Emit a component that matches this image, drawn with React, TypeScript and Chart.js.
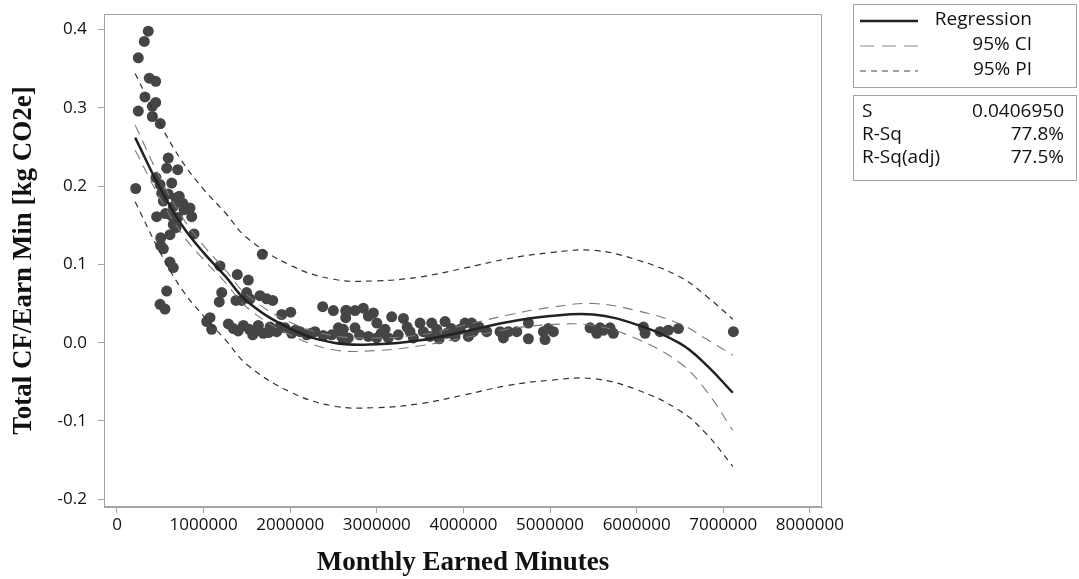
import React, { useEffect, useRef } from "react";
import { Chart, registerables } from "chart.js";

Chart.register(...registerables);

// Observed points: Monthly earned minutes vs Total CF / Earn Min
const pointMinutes: number[] = [
  361000, 315000, 246000, 373000, 447000, 323000, 447000, 408000, 246000, 408000, 500000,
  592000, 574000, 701000, 216000, 450000, 497000, 632000, 516000, 719000, 535000, 650000,
  843000, 863000, 458000, 632000, 650000, 612000, 505000, 889000, 505000, 612000, 650000,
  1189000, 574000, 1209000, 1181000, 497000, 554000, 1074000, 681000, 774000, 535000, 760000,
  590000, 680000, 560000, 700000,
  1678000, 1389000, 1516000, 1497000, 1374000, 1440000, 1536000, 1651000, 1729000, 1798000,
  1902000, 2006000, 2375000, 2498000, 2641000, 2641000, 1036000, 1093000, 1286000, 1344000,
  1459000, 1528000, 1567000, 1632000, 1690000, 1767000, 1844000, 1940000, 2017000, 2113000,
  2191000, 2286000, 2382000, 2479000, 2556000, 2594000, 2671000,
  1400000, 1620000, 1750000, 1880000, 2060000, 2240000,
  2652000, 2748000, 2844000, 2960000, 2902000, 3172000, 3307000, 3499000, 3634000, 3788000,
  4018000, 4095000, 2613000, 2748000, 2613000, 2902000, 2998000, 3095000, 3133000, 3248000,
  3383000, 3422000, 3537000, 3614000, 3692000, 3807000, 3903000, 3961000, 4057000, 4114000,
  4269000, 4423000, 4461000,
  2800000, 3050000, 3350000, 3720000, 3860000, 4180000, 3000000,
  4519000, 4616000, 4750000, 4750000, 4923000, 5039000, 4942000, 5462000, 5577000, 5693000,
  5731000, 5539000, 6078000, 6097000, 6270000, 6366000, 6482000, 7117000,
  4980000, 5620000,
];
const pointCF: number[] = [
  0.398, 0.385, 0.364, 0.338, 0.334, 0.314, 0.307, 0.302, 0.296, 0.289, 0.28,
  0.236, 0.223, 0.221, 0.197, 0.211, 0.202, 0.204, 0.191, 0.187, 0.181, 0.174,
  0.172, 0.161, 0.161, 0.162, 0.151, 0.138, 0.134, 0.139, 0.124, 0.103, 0.096,
  0.098, 0.066, 0.064, 0.052, 0.049, 0.043, 0.032, 0.147, 0.17, 0.12, 0.178,
  0.19, 0.185, 0.165, 0.16,
  0.113, 0.087, 0.08, 0.064, 0.054, 0.054, 0.056, 0.06, 0.056, 0.054,
  0.036, 0.039, 0.046, 0.041, 0.041, 0.032, 0.027, 0.017, 0.024, 0.018,
  0.022, 0.017, 0.01, 0.022, 0.012, 0.02, 0.014, 0.019, 0.012, 0.014,
  0.01, 0.014, 0.009, 0.01, 0.019, 0.008, 0.006,
  0.015, 0.015, 0.013, 0.02, 0.016, 0.012,
  0.041, 0.041, 0.044, 0.038, 0.034, 0.033, 0.031, 0.025, 0.025, 0.027,
  0.025, 0.025, 0.017, 0.019, 0.004, 0.008, 0.006, 0.017, 0.006, 0.01,
  0.014, 0.006, 0.014, 0.008, 0.017, 0.012, 0.008, 0.017, 0.008, 0.014,
  0.014, 0.014, 0.006,
  0.01, 0.012, 0.02, 0.005, 0.018, 0.02, 0.025,
  0.014, 0.014, 0.025, 0.005, 0.014, 0.014, 0.004, 0.019, 0.019, 0.019,
  0.012, 0.012, 0.02, 0.012, 0.014, 0.016, 0.018, 0.014,
  0.018, 0.016,
];

// Fitted curve readings (regression, 95% CI, 95% PI)
const fitMinutes: number[] = [
  210000, 500000, 750000, 1000000, 1250000, 1500000, 2000000, 2500000, 3000000,
  3500000, 4000000, 4500000, 5000000, 5500000, 6000000, 6500000, 6800000, 7110000,
];
const regression: number[] = [
  0.262, 0.197, 0.15, 0.115, 0.085, 0.053, 0.018, 0.0, -0.002,
  0.003, 0.014, 0.026, 0.034, 0.036, 0.023, -0.001, -0.028, -0.064,
];
const ciUpper: number[] = [
  0.278, 0.21, 0.161, 0.124, 0.093, 0.061, 0.026, 0.009, 0.006,
  0.01, 0.022, 0.035, 0.045, 0.05, 0.041, 0.024, 0.005, -0.016,
];
const ciLower: number[] = [
  0.246, 0.184, 0.139, 0.106, 0.077, 0.045, 0.01, -0.009, -0.01,
  -0.004, 0.006, 0.017, 0.023, 0.022, 0.005, -0.026, -0.061, -0.112,
];
const piUpper: number[] = [
  0.344, 0.279, 0.232, 0.196, 0.166, 0.134, 0.099, 0.081, 0.079,
  0.084, 0.095, 0.107, 0.115, 0.118, 0.106, 0.084, 0.06, 0.03,
];
const piLower: number[] = [
  0.18, 0.115, 0.068, 0.034, 0.004, -0.028, -0.063, -0.081, -0.083,
  -0.078, -0.067, -0.055, -0.048, -0.046, -0.06, -0.087, -0.116, -0.158,
];

const xTicks: number[] = [0, 1000000, 2000000, 3000000, 4000000, 5000000, 6000000, 7000000, 8000000];
const yTicks: number[] = [-0.2, -0.1, 0.0, 0.1, 0.2, 0.3, 0.4];

const legendLabels: string[] = ["Regression", "95% CI", "95% PI"];
const statNames: string[] = ["S", "R-Sq", "R-Sq(adj)"];
const statValues: string[] = ["0.0406950", "77.8%", "77.5%"];

const SANS = "'Open Sans', 'Noto Sans', sans-serif";
const SERIF = "'Liberation Serif', 'Times New Roman', serif";
const FRAME = "#a3a3a3";

const pairs = (xs: number[], ys: number[]) => xs.map((x, i) => ({ x, y: ys[i] }));

const overlayPlugin = {
  id: "overlay",
  afterDraw(chart: any) {
    const ctx: CanvasRenderingContext2D = chart.ctx;
    const a = chart.chartArea;
    ctx.save();
    // plot frame
    ctx.strokeStyle = FRAME;
    ctx.lineWidth = 1;
    ctx.setLineDash([]);
    ctx.strokeRect(Math.round(a.left) + 0.5, Math.round(a.top) + 0.5, Math.round(a.right - a.left) - 1, Math.round(a.bottom - a.top) - 1);

    // legend box
    const bx = 853.5, bw = 223;
    ctx.strokeStyle = FRAME;
    ctx.strokeRect(bx, 4.5, bw, 83);
    const rowsY = [21, 46, 71];
    const styles = [
      { dash: [] as number[], color: "#222", w: 2.5 },
      { dash: [14, 8], color: "#8a8a8a", w: 1.2 },
      { dash: [6, 5], color: "#444", w: 1.2 },
    ];
    ctx.font = `19px ${SANS}`;
    ctx.fillStyle = "#111";
    ctx.textAlign = "right";
    ctx.textBaseline = "middle";
    rowsY.forEach((y, i) => {
      const s = styles[i];
      ctx.beginPath();
      ctx.setLineDash(s.dash);
      ctx.strokeStyle = s.color;
      ctx.lineWidth = s.w;
      ctx.moveTo(860, y);
      ctx.lineTo(918, y);
      ctx.stroke();
      ctx.setLineDash([]);
      ctx.fillText(legendLabels[i], 1032, y - 1);
    });

    // statistics box
    ctx.strokeStyle = FRAME;
    ctx.lineWidth = 1;
    ctx.strokeRect(bx, 95.5, bw, 85);
    const statY = [112, 135, 158];
    statY.forEach((y, i) => {
      ctx.textAlign = "left";
      ctx.fillText(statNames[i], 862, y);
      ctx.textAlign = "right";
      ctx.fillText(statValues[i], 1064, y);
    });
    ctx.restore();
  },
};

export default function App() {
  const canvasRef = useRef<HTMLCanvasElement | null>(null);

  useEffect(() => {
    document.body.style.margin = "0";
    const canvas = canvasRef.current;
    if (!canvas) return;
    const lineBase = { type: "line" as const, pointRadius: 0, fill: false, tension: 0.4 };
    const chart = new Chart(canvas, {
      type: "scatter",
      data: {
        datasets: [
          {
            ...lineBase,
            label: "Regression",
            data: pairs(fitMinutes, regression),
            borderColor: "#222",
            borderWidth: 2.5,
            order: 1,
          },
          {
            ...lineBase,
            label: "95% CI upper",
            data: pairs(fitMinutes, ciUpper),
            borderColor: "#7a7a7a",
            borderWidth: 1.1,
            borderDash: [10, 7],
            order: 2,
          },
          {
            ...lineBase,
            label: "95% CI lower",
            data: pairs(fitMinutes, ciLower),
            borderColor: "#7a7a7a",
            borderWidth: 1.1,
            borderDash: [10, 7],
            order: 2,
          },
          {
            ...lineBase,
            label: "95% PI upper",
            data: pairs(fitMinutes, piUpper),
            borderColor: "#333",
            borderWidth: 1.2,
            borderDash: [6, 5],
            order: 3,
          },
          {
            ...lineBase,
            label: "95% PI lower",
            data: pairs(fitMinutes, piLower),
            borderColor: "#333",
            borderWidth: 1.2,
            borderDash: [6, 5],
            order: 3,
          },
          {
            type: "scatter" as const,
            label: "Observed",
            data: pairs(pointMinutes, pointCF),
            backgroundColor: "#454545",
            borderWidth: 0,
            pointRadius: 5.5,
            order: 5,
          },
        ],
      },
      options: {
        responsive: false,
        animation: false,
        events: [],
        layout: { padding: { top: 14, right: 257, left: 0, bottom: 0 } },
        plugins: { legend: { display: false }, tooltip: { enabled: false } },
        scales: {
          x: {
            type: "linear",
            min: -150000,
            max: 8140000,
            afterBuildTicks: (scale: any) => {
              scale.ticks = xTicks.map((v) => ({ value: v }));
            },
            afterFit: (scale: any) => {
              scale.height = 72;
              scale.paddingLeft = 0;
              scale.paddingRight = 0;
            },
            grid: { drawOnChartArea: false, drawTicks: true, tickLength: 6, color: FRAME },
            border: { display: true, color: FRAME },
            ticks: {
              color: "#111",
              font: { family: SANS, size: 17 },
              padding: 2,
              maxRotation: 0,
              autoSkip: false,
              callback: (v: any) => String(v),
            },
            title: {
              display: true,
              text: "Monthly Earned Minutes",
              color: "#111",
              font: { family: SERIF, size: 27, weight: "bold" },
              padding: { top: 0, bottom: 0 },
            },
          },
          y: {
            type: "linear",
            min: -0.21,
            max: 0.42,
            afterBuildTicks: (scale: any) => {
              scale.ticks = yTicks.map((v) => ({ value: v }));
            },
            afterFit: (scale: any) => {
              scale.width = 104;
              scale.paddingTop = 0;
              scale.paddingBottom = 0;
            },
            grid: { drawOnChartArea: false, drawTicks: true, tickLength: 6, color: FRAME },
            border: { display: true, color: FRAME },
            ticks: {
              color: "#111",
              font: { family: SANS, size: 17 },
              padding: 11,
              autoSkip: false,
              callback: (v: any) => Number(v).toFixed(1),
            },
            title: {
              display: true,
              text: "Total CF/Earn Min [kg CO2e]",
              color: "#111",
              font: { family: SERIF, size: 27, weight: "bold" },
              padding: { top: 8, bottom: 0 },
            },
          },
        },
      },
      plugins: [overlayPlugin],
    } as any);
    return () => chart.destroy();
  }, []);

  return (
    <div style={{ width: 1079, height: 579 }}>
      <canvas ref={canvasRef} width={1079} height={579} style={{ display: "block" }} />
    </div>
  );
}
